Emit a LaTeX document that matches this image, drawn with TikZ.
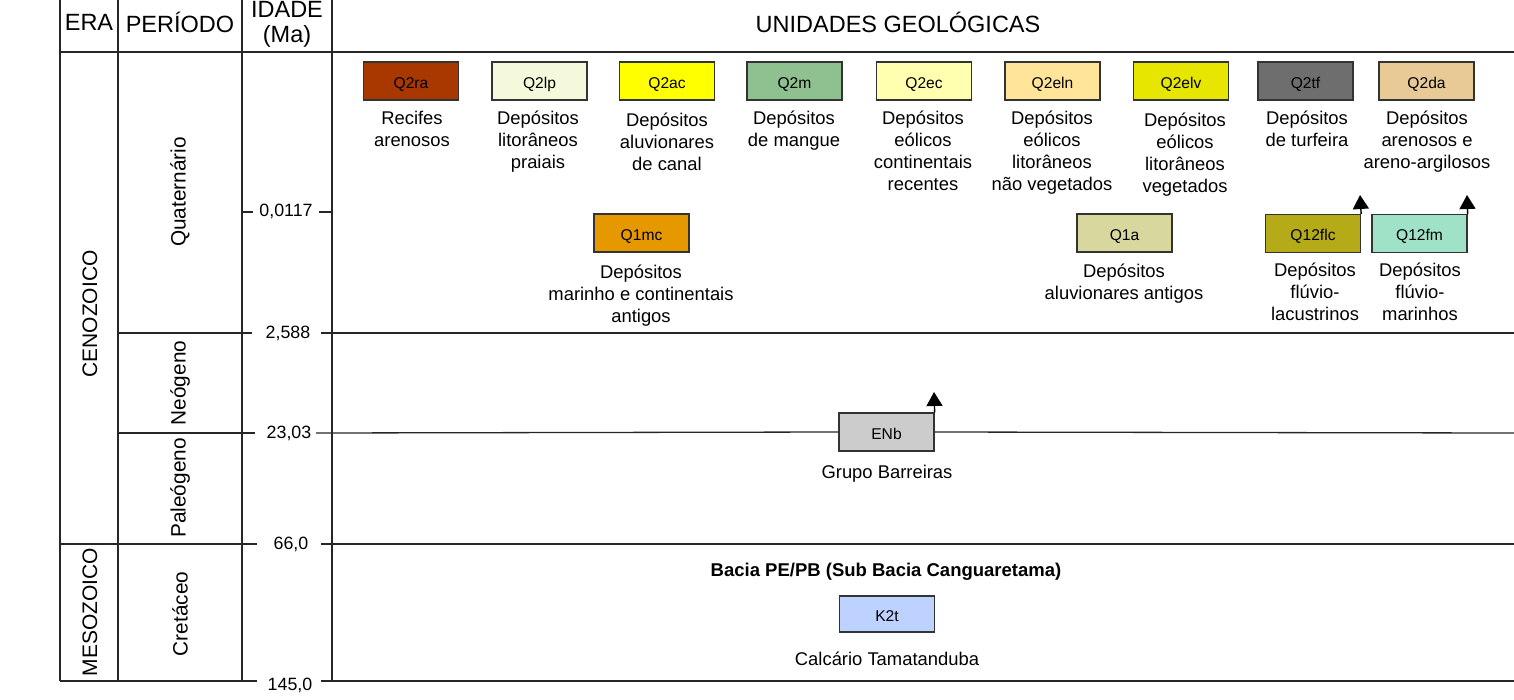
\documentclass[tikz,border=0pt]{standalone}
\usepackage{fontspec}
\setmainfont{Liberation Sans}
\usetikzlibrary{arrows.meta}
\definecolor{cQ2ra}{RGB}{168,56,0}
\definecolor{cQ2lp}{RGB}{245,249,220}
\definecolor{cQ2ac}{RGB}{255,255,0}
\definecolor{cQ2m}{RGB}{143,192,143}
\definecolor{cQ2ec}{RGB}{255,255,175}
\definecolor{cQ2eln}{RGB}{255,228,154}
\definecolor{cQ2elv}{RGB}{230,230,0}
\definecolor{cQ2tf}{RGB}{110,110,110}
\definecolor{cQ2da}{RGB}{232,202,150}
\definecolor{cQ1mc}{RGB}{230,152,0}
\definecolor{cQ1a}{RGB}{215,215,158}
\definecolor{cQ12flc}{RGB}{181,170,24}
\definecolor{cQ12fm}{RGB}{160,226,200}
\definecolor{cENb}{RGB}{204,204,204}
\definecolor{cK2t}{RGB}{190,210,255}
\begin{document}
\begin{tikzpicture}[x=1pt,y=-1pt,
  grid/.style={line width=1.3pt, black!85},
  unit/.style={draw=black!80, line width=1.3pt, minimum width=95pt, minimum height=38pt, inner sep=0pt, text height=14pt, text depth=0pt, font=\fontsize{15.6}{18}\selectfont},
  desc/.style={align=center, inner sep=0pt, anchor=north, font=\fontsize{18.4}{22}\selectfont},
  age/.style={inner sep=0pt, font=\fontsize{17.8}{20}\selectfont},
  hdr/.style={inner sep=0pt, font=\fontsize{23.5}{26}\selectfont},
  per/.style={rotate=90, inner sep=0pt, font=\fontsize{20.8}{24}\selectfont},
  up/.style={-{Triangle[width=16pt,length=14pt]}, line width=1.4pt, black}]
\useasboundingbox (0,0) rectangle (1514,699);

% table frame
\draw[grid] (60,0) -- (60,681);
\draw[grid] (118,0) -- (118,681);
\draw[grid] (242,0) -- (242,681);
\draw[grid] (332,0) -- (332,681);
\draw[grid] (60,52) -- (1514,52);

% headers
\node[hdr] (hera) at (89,22) {ERA};
\node[hdr] (hper) at (180,22) {PERÍODO};
\node[hdr, align=center, font=\fontsize{23.5}{25}\selectfont] (hage) at (287,24) {IDADE\\(Ma)};
\node[hdr] (hun) at (898,22) {UNIDADES GEOLÓGICAS};

% eras and periods
\node[per, font=\fontsize{21}{24}\selectfont] (ceno) at (90,314) {CENOZOICO};
\node[per, font=\fontsize{21}{24}\selectfont] (meso) at (90,612) {MESOZOICO};
\node[per] (quat) at (180,192) {Quaternário};
\node[per] (neo) at (180,383) {Neógeno};
\node[per] (pal) at (180,488) {Paleógeno};
\node[per] (cret) at (180,614) {Cretáceo};

% ages
\node[age] (a1) at (286,211) {0,0117};
\draw[grid] (242,212) -- (253,212);
\draw[grid] (319,212) -- (332,212);
\node[age] (a2) at (288,333) {2,588};
\draw[grid] (118,333) -- (252,333);
\draw[grid] (321,333) -- (1514,333);
\node[age] (a3) at (289,433) {23,03};
\draw[grid] (118,433) -- (255,433);
\node[age] (a4) at (291,544) {66,0};
\draw[grid] (60,544) -- (257,544);
\draw[grid] (321,544) -- (1514,544);
\node[age] (a5) at (290,685) {145,0};
\draw[grid] (60,681) -- (257,681);
\draw[grid] (321,681) -- (1514,681);

% top row units
\node[unit, fill=cQ2ra] (q2ra) at (411,81) {Q2ra};
\node[desc] (dq2ra) at (412,111) {Recifes\\arenosos};
\node[unit, fill=cQ2lp] (q2lp) at (539.5,81) {Q2lp};
\node[desc] (dq2lp) at (538,111) {Depósitos\\litorâneos\\praiais};
\node[unit, fill=cQ2ac] (q2ac) at (667,81) {Q2ac};
\node[desc] (dq2ac) at (667,113) {Depósitos\\aluvionares\\de canal};
\node[unit, fill=cQ2m] (q2m) at (794.5,81) {Q2m};
\node[desc] (dq2m) at (794,111) {Depósitos\\de mangue};
\node[unit, fill=cQ2ec] (q2ec) at (924,81) {Q2ec};
\node[desc] (dq2ec) at (923,111) {Depósitos\\eólicos\\continentais\\recentes};
\node[unit, fill=cQ2eln] (q2eln) at (1052.5,81) {Q2eln};
\node[desc] (dq2eln) at (1052,111) {Depósitos\\eólicos\\litorâneos\\não vegetados};
\node[unit, fill=cQ2elv] (q2elv) at (1181,81) {Q2elv};
\node[desc] (dq2elv) at (1185,113) {Depósitos\\eólicos\\litorâneos\\vegetados};
\node[unit, fill=cQ2tf] (q2tf) at (1305.5,81) {Q2tf};
\node[desc] (dq2tf) at (1307,111) {Depósitos\\de turfeira};
\node[unit, fill=cQ2da] (q2da) at (1426.5,81) {Q2da};
\node[desc] (dq2da) at (1427,111) {Depósitos\\arenosos e\\areno-argilosos};

% second row units
\node[unit, fill=cQ1mc] (q1mc) at (641.5,233) {Q1mc};
\node[desc] (dq1mc) at (641,265) {Depósitos\\marinho e continentais\\antigos};
\node[unit, fill=cQ1a] (q1a) at (1124.5,233) {Q1a};
\node[desc] (dq1a) at (1124,264) {Depósitos\\aluvionares antigos};
\node[unit, fill=cQ12flc] (q12flc) at (1313,233.5) {Q12flc};
\node[desc] (dq12flc) at (1315,263) {Depósitos\\flúvio-\\lacustrinos};
\node[unit, fill=cQ12fm] (q12fm) at (1419.5,233.5) {Q12fm};
\node[desc] (dq12fm) at (1420,263) {Depósitos\\flúvio-\\marinhos};
\coordinate (t1) at (1360,195);
\coordinate (t2) at (1467,195);
\draw[up] (q12flc.north east) -- (t1);
\draw[up] (q12fm.north east) -- (t2);

% Barreiras
\node[unit, fill=cENb] (enb) at (886.5,432) {ENb};
\node[desc, anchor=center] (denb) at (887,474) {Grupo Barreiras};
\draw[grid] (316,433) -- (enb.west);
\draw[grid] (enb.east) -- (1514,433);
\coordinate (t3) at (934,392);
\draw[up] (enb.north east) -- (t3);

% Cretaceous
\node[desc, anchor=center, font=\bfseries\fontsize{18.5}{22}\selectfont] (bacia) at (886,572) {Bacia PE/PB (Sub Bacia Canguaretama)};
\node[unit, fill=cK2t, minimum height=36pt] (k2t) at (887,614) {K2t};
\node[desc, anchor=center] (dk2t) at (887,659) {Calcário Tamatanduba};
\end{tikzpicture}
\end{document}
